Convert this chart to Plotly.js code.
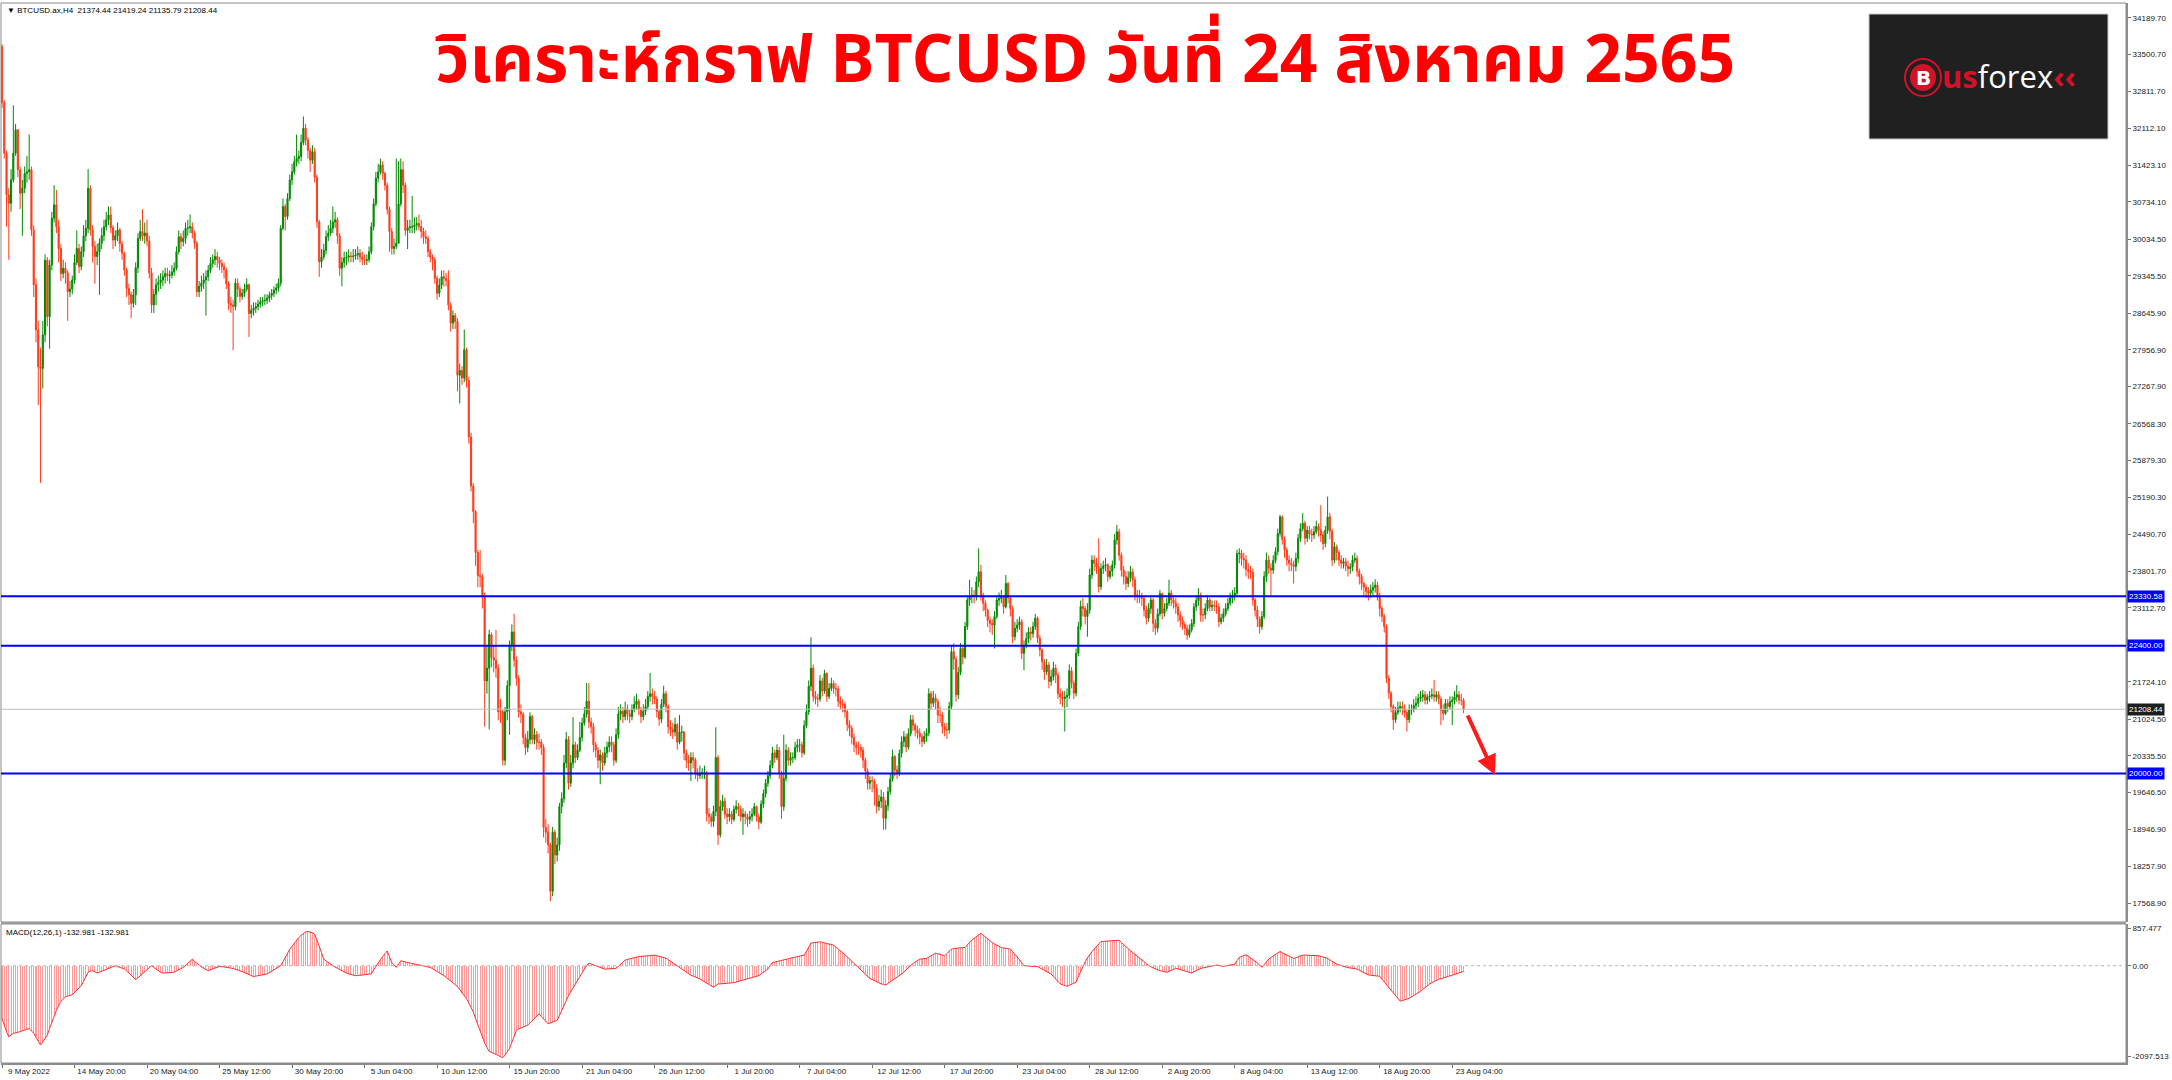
<!DOCTYPE html>
<html><head><meta charset="utf-8">
<script src="https://cdn.plot.ly/plotly-3.0.1.min.js"></script>
<style>html,body{margin:0;padding:0;background:#fff;overflow:hidden}#chart{width:2172px;height:1080px}</style>
</head><body><div id="chart"></div>
<script>
// ---------------- DATA (BTCUSD H4) ----------------
const firstOpen = 33650;
const closes = [
32600,31650,30870,30710,31150,31650,32090,31340,30900,30990,
31270,31300,31340,30210,29180,28330,27640,27610,28240,29640,
28580,29550,30430,30680,30270,29860,29390,29490,29400,29050,
29100,29270,29600,29860,29520,29800,30100,30240,30990,30210,
29900,29710,29800,29960,30100,30270,30400,30490,30250,30020,
30100,30210,29950,29770,29460,29110,29000,28830,28990,29500,
30050,30180,30100,30150,30000,29400,28800,29000,29180,29220,
29270,29330,29390,29350,29360,29420,29490,29800,30080,29990,
30050,30240,30250,30270,30150,29960,29050,29150,29210,29270,
29330,29450,29580,29650,29710,29650,29580,29520,29460,29200,
28830,28800,28770,29210,29100,28960,29020,29100,29180,28640,
28700,28740,28770,28820,28860,28880,28890,28930,28980,29020,
29080,29120,29210,30240,30650,30460,30800,31150,31300,31490,
31550,31590,31850,32120,31900,31700,31520,31680,31200,30360,
29610,29700,29830,30080,30150,30240,30360,30400,30100,29490,
29600,29680,29700,29720,29710,29720,29740,29770,29700,29650,
29640,29650,29800,30270,30700,31180,31300,31430,31270,31050,
30600,30180,29860,29900,29960,30700,31340,31050,30200,30250,
30270,30270,30300,30330,30270,30180,30080,30050,29800,29700,
29650,29300,29020,29175,29330,29300,29260,28800,28460,28600,
28490,27480,27570,27430,27960,27380,26320,25400,24920,24150,
23720,23700,23330,21740,21980,22610,22180,22130,21980,21160,
21160,20250,21160,21650,22420,22660,22130,21790,21160,21120,
20680,20490,20640,21070,20640,20730,20590,20590,20490,18990,
18900,18660,17790,18900,18470,18660,19380,19530,20200,20640,
19820,20200,20540,20300,20440,20680,20950,21120,21360,20970,
20880,20540,20440,20250,20350,20200,20390,20500,20590,20540,
20250,20730,21120,21170,21070,21210,21120,21070,21210,21300,
21360,21210,21070,21170,21260,21450,21500,21450,21400,21165,
21020,21300,21500,21260,20880,20830,20780,20920,20590,20780,
20780,20390,20250,20200,20300,20250,20010,19960,20010,20010,
20010,19240,19190,19100,19290,20300,18850,19380,19480,19240,
19190,19240,19140,19330,19380,19330,19190,19240,19190,19140,
19190,19240,19380,19190,19090,19430,19620,19820,19960,20150,
20390,20300,20440,20000,19380,19910,20440,20250,20300,20300,
20490,20540,20540,20390,20900,21160,21640,21980,21450,21405,
21400,21740,21550,21880,21450,21600,21690,21600,21590,21360,
21310,21300,21165,20920,20850,20680,20540,20490,20490,20440,
20250,20050,19820,19870,19860,19720,19380,19480,19560,19160,
19400,19660,19900,20320,20070,20000,20380,20600,20690,20500,
20750,21010,20910,20820,20760,20690,20600,20700,20760,21500,
21320,21420,21350,21100,21100,20880,20820,20820,21260,22290,
22150,21480,21900,22350,22190,22760,23260,23330,23350,23320,
23600,23790,23350,23200,23070,22880,22820,22790,22950,23260,
23290,23320,23130,23570,23300,23100,22570,22730,22790,22850,
22260,22410,22530,22660,22630,22760,22920,22540,22320,22100,
21910,22040,21730,21820,21980,21850,21500,21440,21410,21440,
21470,21930,21700,21510,22260,22760,23140,23100,22950,23070,
23730,24010,23950,23880,23510,23850,23900,23920,23700,23800,
23920,24390,24540,24100,23820,23700,23570,23680,23790,23640,
23350,23350,23330,23290,23070,22920,23100,23260,22820,22730,
23000,23380,23010,23100,23200,23390,23260,23200,23130,22980,
22880,22800,22730,22600,22700,22820,23130,23250,23350,22980,
22980,23100,23260,23130,23160,23150,23130,22850,22920,23000,
23100,23200,23300,23350,23390,24130,24140,24040,24010,23830,
23800,23780,23260,23070,22900,22760,22950,23700,24010,23860,
23820,24000,24170,24510,24820,24400,24200,24010,23950,23920,
23890,24040,24420,24600,24700,24420,24570,24500,24480,24540,
24640,24580,24480,24320,24570,24820,24550,24010,24260,24150,
24010,23950,23980,23900,23850,23880,24010,24040,23800,23700,
23570,23500,23420,23390,23450,23500,23540,23350,23100,22950,
22760,21790,21510,21260,21010,21150,21230,21260,21230,21150,
21010,21190,21200,21280,21320,21410,21440,21480,21380,21440,
21460,21480,21440,21480,21400,21190,21130,21320,21260,21350,
21380,21440,21480,21380,21374.44,21208.44];
const highs = [
33700,32650,31700,31000,31350,32550,32200,32100,31400,31150,
31400,31600,32000,31400,30300,29300,28500,28000,28500,29750,
29700,29650,30550,31050,30960,30400,29950,29650,29600,29450,
29250,29350,29750,30200,29950,29900,30300,30400,31350,31050,
30300,30000,29950,30050,30250,30400,30550,30650,30650,30300,
30200,30350,30250,30000,29800,29500,29200,29050,29100,29600,
30150,30400,30600,30350,30400,30100,29500,29100,29300,29350,
29400,29450,29500,29500,29450,29550,29600,29900,30200,30150,
30200,30350,30400,30500,30350,30200,30000,29250,29350,29400,
29450,29550,29700,29750,29850,29800,29700,29650,29600,29500,
29250,28950,28900,29300,29300,29150,29100,29200,29300,29200,
28800,28850,28850,28900,28950,28950,29000,29000,29050,29100,
29150,29200,29300,30300,30800,30700,30900,31250,31450,31600,
32000,31700,32000,32340,32200,31950,31750,31800,31750,31250,
30400,29850,29950,30200,30300,30400,30650,30550,30450,30150,
29700,29800,29800,29850,29800,29850,29850,29900,29850,29800,
29750,29750,29900,30350,30800,31300,31450,31550,31500,31300,
31100,30650,30250,30050,31550,31500,31550,31500,31100,30400,
30400,30850,30450,30450,30500,30400,30250,30200,30100,29850,
29750,29700,29350,29300,29450,29450,29400,29450,28850,28700,
28650,28550,27700,27650,28340,28000,27450,26400,25450,24950,
24200,24200,23750,23400,22400,22700,22650,22400,22700,22050,
21400,21200,21250,21750,22500,22800,23000,22200,21850,21300,
21150,20750,20800,21150,21100,20850,20800,20750,20650,20550,
19150,19050,18700,19000,18950,18800,19450,19650,20350,20780,
20700,20350,21060,20600,20550,20970,21050,21250,21700,21700,
21050,20950,20600,20500,20450,20400,20500,20600,20700,20700,
20600,20850,21250,21300,21250,21350,21300,21200,21300,21450,
21500,21400,21250,21300,21400,21550,21890,21600,21550,21450,
21200,21400,21650,21550,21300,21000,20950,21050,20950,21100,
20900,20800,20450,20350,20400,20400,20300,20100,20150,20100,
20150,20050,19350,19250,19400,20870,20350,19500,19600,19550,
19350,19350,19300,19400,19500,19450,19400,19350,19300,19250,
19300,19350,19450,19400,19250,19500,19700,19900,20050,20250,
20500,20450,20550,20500,20050,20730,20550,20500,20400,20400,
20600,20650,20650,20600,21000,21300,21750,22560,22050,21550,
21500,21850,21800,21950,21900,21700,21800,21750,21700,21650,
21450,21400,21350,21200,21000,20900,20750,20600,20600,20550,
20500,20300,20100,19950,19950,19900,19800,19600,19700,19650,
19500,19750,20000,20450,20350,20150,20450,20700,20800,20750,
20850,21100,21100,20950,20900,20850,20750,20800,20850,21600,
21550,21550,21500,21400,21250,21150,20950,20950,21350,22400,
22450,22200,22000,22450,22400,22850,23350,23640,23500,23450,
23700,24230,23920,23400,23250,23100,22950,22900,23050,23350,
23400,23450,23350,23730,23600,23350,23150,22850,22900,22950,
22900,22500,22650,22750,22750,22850,23000,22950,22600,22350,
22150,22150,22100,21950,22100,22050,21900,21600,21550,21550,
21600,22050,22000,21750,22350,22850,23250,23300,23150,23200,
23850,24100,24100,24050,24420,23950,24000,24050,23950,23900,
24000,24500,24670,24600,24150,23900,23800,23800,23900,23850,
23700,23450,23450,23400,23350,23150,23200,23350,23300,22900,
23100,23450,23400,23200,23300,23640,23450,23350,23300,23200,
23050,22950,22850,22800,22800,22900,23200,23350,23480,23400,
23100,23200,23350,23300,23250,23250,23250,23200,23000,23100,
23200,23300,23400,23450,23500,24200,24230,24200,24150,24100,
23950,23900,23850,23300,23150,22950,23050,23800,24150,24100,
23950,24100,24250,24600,24860,24850,24450,24250,24100,24050,
24000,24150,24500,24700,24890,24750,24650,24650,24600,24650,
24750,24700,25040,24550,24650,25200,24900,24600,24350,24300,
24200,24100,24050,24050,24000,23950,24100,24150,24100,23850,
23750,23600,23550,23500,23550,23600,23650,23600,23400,23150,
23000,22800,21850,21550,21300,21250,21350,21350,21350,21300,
21200,21300,21300,21400,21450,21500,21550,21570,21550,21500,
21550,21600,21760,21550,21550,21450,21300,21400,21400,21450,
21450,21550,21660,21550,21500,21419.24];
const lows = [
32500,31550,30270,29650,30550,31100,31600,31200,30600,30100,
30900,31100,31150,30100,28950,28100,26920,25460,27230,28100,
28400,27980,29450,30350,30150,29600,29250,29300,29200,28500,
28950,29000,29200,29550,29400,29450,29700,30000,30150,30100,
29600,29200,29550,28990,29850,30000,30200,30300,30150,29850,
29900,30000,29800,29650,29350,28950,28800,28550,28750,28800,
29400,30000,30000,29950,29900,29300,28650,28650,28800,29050,
29100,29150,29200,29250,29200,29300,29350,29450,29750,29850,
29900,29950,30100,30150,30050,29850,28950,28950,29050,29100,
28600,29250,29400,29500,29550,29500,29450,29400,29300,29100,
28700,28650,27950,28700,28950,28850,28900,28950,29050,28200,
28550,28600,28650,28700,28750,28780,28800,28820,28850,28900,
28950,29000,29050,29150,30200,30200,30400,30750,31050,31250,
31400,31450,31500,31800,31800,31550,31300,31450,31100,30250,
29330,29500,29650,29750,30000,30100,30150,30250,29950,29350,
29150,29500,29550,29600,29600,29600,29650,29650,29600,29550,
29550,29550,29600,29750,30200,30650,31100,31250,31150,30950,
30500,29800,29750,29750,29850,29950,30650,30900,30100,29850,
30150,30150,30150,30200,30200,30050,29950,29950,29700,29600,
29450,29200,28900,28950,29100,29150,29150,28700,28300,28350,
28350,27180,26950,27300,27350,27250,26200,25300,24700,23900,
23500,23500,23100,20880,21500,20830,22000,21900,21800,21000,
20950,20150,20150,21000,20730,22300,22000,21650,21050,20950,
20550,20350,20400,20550,20550,20550,20450,20450,20350,18800,
18700,18500,17600,17700,18300,18350,18550,19250,19450,20100,
19700,19750,20100,20200,20250,20400,20600,20900,21050,20850,
20750,20400,20300,20100,19800,20050,20150,20300,20400,20400,
20150,20200,20650,21000,20950,21000,21000,20950,21000,21150,
21200,21100,20950,21000,21100,21200,21350,21300,21300,21050,
20900,20950,21250,21150,20750,20700,20650,20700,20450,20550,
20600,20250,20100,20050,19860,20100,19900,19850,19900,19900,
19900,19100,19050,19000,19000,19200,18660,18800,19300,19150,
19050,19100,19050,19100,19250,19200,19100,18850,19050,19000,
19050,19100,19200,19100,18950,19050,19350,19550,19750,19900,
20100,20200,20250,19900,19150,19300,19850,20150,20150,20200,
20250,20400,20400,20300,20350,20850,21100,21550,21350,21300,
21250,21350,21450,21500,21350,21400,21550,21500,21450,21250,
21200,21150,21050,20800,20700,20550,20400,20350,20350,20300,
20100,19900,19700,19700,19650,19400,19250,19300,19350,18940,
18950,19300,19600,19850,19950,19900,19950,20300,20500,20400,
20450,20700,20800,20700,20650,20550,20500,20550,20600,20700,
21200,21250,21200,20950,20950,20750,20700,20650,20750,21200,
21950,21350,21400,21850,22050,22150,22700,23150,23200,23200,
23250,23500,23250,23050,22950,22750,22650,22600,22350,22900,
23150,23200,23000,23100,23200,22950,22450,22500,22650,22700,
22150,21940,22350,22450,22500,22550,22700,22450,22200,21950,
21760,21850,21600,21650,21750,21700,21400,21300,21250,20790,
21250,21400,21600,21400,21450,22200,22700,22950,22800,22570,
23000,23650,23800,23750,23400,23450,23750,23800,23600,23650,
23700,23850,24300,24000,23700,23550,23450,23500,23600,23500,
23250,23200,23200,23150,22950,22800,22850,23000,22660,22600,
22650,22950,22900,22950,23050,23150,23150,23100,23000,22850,
22750,22700,22600,22510,22550,22650,22750,23050,23150,22850,
22850,22900,23050,23050,23050,23050,23000,22750,22800,22850,
22950,23050,23150,23200,23250,23350,23950,23900,23850,23700,
23650,23650,23150,22950,22750,22630,22700,22900,23600,23750,
23350,23750,23950,24100,24450,24300,24050,23900,23800,23800,
23570,23800,23950,24350,24550,24300,24350,24400,24350,24400,
24500,24450,24350,24200,24250,24500,24400,23900,23950,24000,
23900,23850,23850,23800,23700,23750,23800,23950,23700,23550,
23450,23350,23300,23250,23300,23350,23400,23250,22950,22850,
22650,21700,21400,21150,20820,20950,21100,21150,21100,21050,
20790,20950,21100,21150,21200,21250,21350,21350,21300,21300,
21350,21400,21350,21350,21300,20910,21000,21100,21150,21200,
20910,21300,21350,21300,21280,21135.79];
// MACD(12,26,1) histogram
const macd = [
-1220,-1380,-1520,-1640,-1600,-1560,-1550,-1540,-1520,-1500,
-1490,-1470,-1450,-1500,-1560,-1650,-1740,-1830,-1760,-1690,
-1600,-1450,-1300,-1145,-1030,-920,-825,-770,-720,-700,
-685,-670,-620,-570,-510,-460,-360,-250,-150,-120,
-120,-140,-170,-150,-130,-110,-90,-70,-45,-20,
0,-20,-40,-60,-75,-120,-170,-230,-280,-320,
-280,-230,-190,-140,-90,-40,0,-40,-80,-120,
-150,-170,-165,-160,-160,-155,-150,-120,-95,-65,
-40,10,60,110,150,100,50,0,-30,-60,
-90,-115,-95,-75,-55,-35,-15,-20,-25,-35,
-40,-55,-65,-80,-90,-110,-135,-160,-185,-210,
-230,-250,-240,-230,-220,-210,-200,-190,-160,-130,
-100,-65,-30,0,90,190,290,380,450,520,
590,650,700,750,780,790,780,760,725,600,
450,300,150,110,70,35,0,-30,-60,-90,
-120,-150,-170,-190,-205,-220,-230,-225,-220,-215,
-210,-205,-200,-190,-100,-10,75,140,210,280,
340,210,75,20,-40,40,115,100,85,70,
55,45,38,30,22,15,0,-15,-30,-40,
-70,-100,-130,-160,-190,-230,-270,-310,-350,-385,
-420,-480,-550,-620,-690,-760,-860,-960,-1070,-1220,
-1370,-1530,-1680,-1780,-1880,-1980,-2000,-2020,-2040,-2070,
-2100,-2120,-2060,-1990,-1910,-1770,-1630,-1490,-1460,-1440,
-1420,-1395,-1370,-1320,-1270,-1210,-1160,-1110,-1170,-1230,
-1290,-1340,-1320,-1300,-1280,-1260,-1150,-1030,-920,-800,
-690,-600,-510,-420,-320,-230,-150,-80,0,60,
40,20,0,-20,-40,-60,-80,-76,-72,-68,
-64,-60,-15,35,80,130,145,160,170,185,
200,210,215,220,225,230,235,240,245,230,
215,200,190,175,140,105,70,35,0,-40,
-80,-120,-160,-190,-220,-240,-260,-285,-305,-340,
-370,-400,-430,-465,-496,-460,-420,-420,-415,-415,
-410,-410,-405,-390,-375,-360,-345,-330,-320,-305,
-290,-275,-260,-245,-229,-190,-150,-115,-76,0,
76,85,95,105,115,130,145,160,175,185,
195,205,215,230,244,330,430,520,530,540,
545,550,540,530,515,500,487,473,430,390,
345,305,255,205,155,100,50,0,-55,-110,
-160,-215,-267,-295,-320,-350,-380,-405,-420,-430,
-443,-410,-375,-340,-300,-267,-230,-190,-153,-95,
-40,15,50,85,120,153,158,163,168,200,
230,260,290,275,260,245,229,280,330,382,
395,405,415,420,420,420,480,540,595,630,
670,710,748,705,660,620,575,534,505,475,
450,420,410,400,390,382,325,270,214,140,
70,0,-4,-8,-12,-15,-19,-23,-50,-80,
-110,-135,-165,-191,-250,-310,-365,-420,-440,-460,
-473,-450,-425,-405,-382,-250,-125,0,90,180,
267,325,385,440,500,557,560,565,568,572,
576,580,584,588,535,485,430,382,345,305,
265,229,185,140,95,45,0,-25,-50,-75,
-99,-115,-125,-140,-153,-130,-105,-85,-61,-75,
-90,-105,-120,-135,-150,-168,-140,-110,-76,-65,
-50,-40,-25,-15,-5,5,15,5,-5,-15,
-5,5,15,25,38,115,191,215,235,252,
220,185,150,115,65,15,-38,25,90,153,
190,225,260,295,328,300,270,245,214,190,
168,185,205,225,244,244,244,244,244,244,
244,230,215,200,185,168,135,100,70,38,
20,0,-20,-38,-45,-53,-60,-68,-76,-105,
-130,-160,-190,-214,-220,-226,-232,-238,-244,-310,
-375,-440,-505,-572,-630,-695,-755,-816,-805,-790,
-778,-750,-720,-690,-660,-633,-590,-545,-500,-458,
-425,-390,-360,-328,-315,-300,-285,-267,-250,-235,
-220,-205,-191,-170,-150,-133];

const timeLabels = ['9 May 2022','14 May 20:00','20 May 04:00','25 May 12:00','30 May 20:00','5 Jun 04:00','10 Jun 12:00','15 Jun 20:00','21 Jun 04:00','26 Jun 12:00','1 Jul 20:00','7 Jul 04:00','12 Jul 12:00','17 Jul 20:00','23 Jul 04:00','28 Jul 12:00','2 Aug 20:00','8 Aug 04:00','13 Aug 12:00','18 Aug 20:00','23 Aug 04:00'];
const timeLabelBars = [0,32,64,96,128,160,192,224,256,288,320,352,384,416,448,480,512,544,576,608,640];
const priceTicks = ['34189.70','33500.70','32811.70','32112.10','31423.10','30734.10','30034.50','29345.50','28645.90','27956.90','27267.90','26568.30','25879.30','25190.30','24490.70','23801.70','23112.70','21724.10','21024.50','20335.50','19646.50','18946.90','18257.90','17568.90'];
const macdTicks = ['857.477','0.00','-2097.513'];
const levelLines = [23330.58, 22400.00, 20000.00];
const levelLabels = ['23330.58','22400.00','20000.00'];
const bidPrice = 21208.44;
const arrowBars = [646.5, 658.9];
const arrowPrices = [21119, 19973];
const headerText = '\u25BC BTCUSD.ax,H4  21374.44 21419.24 21135.79 21208.44';
const macdText = 'MACD(12,26,1) -132.981 -132.981';
const titleText = 'วิเคราะห์กราฟ BTCUSD วันที่ 24 สิงหาคม 2565';

// ---------------- BUILD ----------------
if (closes.length !== highs.length || closes.length !== lows.length || closes.length !== macd.length) {
  throw new Error('length mismatch c=' + closes.length + ' h=' + highs.length + ' l=' + lows.length + ' m=' + macd.length);
}
const bars = closes.map((_, i) => i);
const opens = closes.map((c, i) => i === 0 ? firstOpen : closes[i - 1]);
const hi = highs.map((h, i) => Math.max(h, opens[i], closes[i]));
const lo = lows.map((l, i) => Math.min(l, opens[i], closes[i]));

const W = 2172, H = 1080;
const mL = 1, mR = 46, mT = 3, mB = 17;
const plotW = W - mL - mR, plotH = H - mT - mB;
const pyP = px => (H - mB - px) / plotH;     // pixel y -> paper y
const pxP = px => (px - mL) / plotW;         // pixel x -> paper x
const barPx = 2.266, bar0 = 2;
const xr = [(mL - bar0) / barPx, (W - mR - bar0) / barPx];
const mainDom = [pyP(922), 1];
const macdDom = [0, pyP(924)];

const font = 'Liberation Sans, Arial, sans-serif';
const traces = [
  {type: 'candlestick', x: bars, open: opens, high: hi, low: lo, close: closes,
   xaxis: 'x', yaxis: 'y', whiskerwidth: 0, hoverinfo: 'skip',
   increasing: {line: {color: '#008a00', width: 1}, fillcolor: '#008a00'},
   decreasing: {line: {color: '#ff3b1a', width: 1}, fillcolor: '#ff3b1a'}},
  {type: 'bar', x: bars, y: macd, xaxis: 'x', yaxis: 'y2', width: 0.45,
   marker: {color: '#ff9a9a', line: {width: 0}}, hoverinfo: 'skip'},
  {type: 'scatter', mode: 'lines', x: bars, y: macd, xaxis: 'x', yaxis: 'y2',
   line: {color: '#ff2d2d', width: 1}, hoverinfo: 'skip'}
];

const shapes = [
  {type: 'rect', xref: 'paper', yref: 'paper', x0: 0, x1: 1, y0: mainDom[0], y1: 1, line: {color: '#8a8a8a', width: 1}},
  {type: 'rect', xref: 'paper', yref: 'paper', x0: 0, x1: 1, y0: 0, y1: macdDom[1], line: {color: '#8a8a8a', width: 1}},
  {type: 'rect', xref: 'paper', yref: 'paper', x0: 0, x1: 1, y0: macdDom[1], y1: mainDom[0], fillcolor: '#9a9a9a', line: {width: 0}},
  {type: 'line', xref: 'paper', yref: 'y', x0: 0, x1: 1, y0: bidPrice, y1: bidPrice, line: {color: '#c0c0c0', width: 1}},
  {type: 'line', xref: 'paper', yref: 'y2', x0: 0, x1: 1, y0: 0, y1: 0, line: {color: '#b8b8b8', width: 1, dash: 'dot'}},
  // logo box
  {type: 'rect', xref: 'paper', yref: 'paper', x0: pxP(1869), x1: pxP(2108), y0: pyP(139), y1: pyP(14), fillcolor: '#202020', line: {color: '#c8c8c8', width: 1}},
  {type: 'circle', xref: 'paper', yref: 'paper', x0: pxP(1905), x1: pxP(1941), y0: pyP(96), y1: pyP(59), fillcolor: 'rgba(0,0,0,0)', line: {color: '#d3122a', width: 2}},
  {type: 'circle', xref: 'paper', yref: 'paper', x0: pxP(1910), x1: pxP(1936), y0: pyP(91), y1: pyP(64), fillcolor: '#d3122a', line: {width: 0}}
];
levelLines.forEach(v => shapes.push({type: 'line', xref: 'paper', yref: 'y', x0: 0, x1: 1, y0: v, y1: v, line: {color: '#0000ff', width: 2}}));

const annotations = [
  {xref: 'paper', yref: 'paper', x: 0, y: 1, xanchor: 'left', yanchor: 'top', xshift: 4, yshift: -1, showarrow: false,
   text: headerText, font: {family: font, size: 8, color: '#000'}},
  {xref: 'paper', yref: 'paper', x: 0, y: macdDom[1], xanchor: 'left', yanchor: 'top', xshift: 3, yshift: -2, showarrow: false,
   text: macdText, font: {family: font, size: 8, color: '#000'}},
  {xref: 'paper', yref: 'paper', x: pxP(1085), y: pyP(62), xanchor: 'center', yanchor: 'middle', showarrow: false,
   text: '<b>' + titleText + '</b>', font: {family: 'Noto Sans Thai, Noto Sans, DejaVu Sans, sans-serif', size: 66, color: '#ff0000'}},
  {xref: 'paper', yref: 'paper', x: pxP(1923), y: pyP(78), xanchor: 'center', yanchor: 'middle', showarrow: false,
   text: '<b>B</b>', font: {family: 'DejaVu Sans, sans-serif', size: 20, color: '#ffffff'}},
  {xref: 'paper', yref: 'paper', x: pxP(1940), y: pyP(76), xanchor: 'left', yanchor: 'middle', showarrow: false,
   text: '<span style="color:#d3122a"><b>us</b></span><span style="color:#ffffff">forex</span><span style="color:#d3122a"><b>\u2039\u2039</b></span>',
   font: {family: 'Open Sans, Noto Sans, sans-serif', size: 31, color: '#ffffff'}},
  {x: arrowBars[1], y: arrowPrices[1], ax: arrowBars[0], ay: arrowPrices[0], xref: 'x', yref: 'y', axref: 'x', ayref: 'y',
   showarrow: true, text: '', arrowcolor: '#ff1a1a', arrowwidth: 4, arrowhead: 2, arrowsize: 1}
];
levelLines.forEach((v, k) => annotations.push({xref: 'paper', yref: 'y', x: 1, y: v, xanchor: 'left', yanchor: 'middle', xshift: 1,
  showarrow: false, text: levelLabels[k], bgcolor: '#0000ff', borderpad: 1, font: {family: font, size: 8, color: '#ffffff'}}));
annotations.push({xref: 'paper', yref: 'y', x: 1, y: bidPrice, xanchor: 'left', yanchor: 'middle', xshift: 1,
  showarrow: false, text: bidPrice.toFixed(2), bgcolor: '#1e1e1e', borderpad: 1, font: {family: font, size: 8, color: '#ffffff'}});

const axisCommon = {showgrid: false, zeroline: false, showline: true, linecolor: '#8c8c8c', linewidth: 2,
  ticks: 'outside', ticklen: 3, tickcolor: '#707070', tickfont: {family: font, size: 8, color: '#202020'}, fixedrange: true};
const layout = {
  width: W, height: H, margin: {l: mL, r: mR, t: mT, b: mB, pad: 0},
  paper_bgcolor: '#ffffff', plot_bgcolor: '#ffffff', showlegend: false, bargap: 0,
  xaxis: Object.assign({}, axisCommon, {domain: [0, 1], anchor: 'y2', range: xr, rangeslider: {visible: false},
    tickmode: 'array', tickvals: timeLabelBars, ticktext: timeLabels, ticklabelshift: 27, ticklen: 3, ticklabelstandoff: -4}),
  yaxis: Object.assign({}, axisCommon, {domain: mainDom, anchor: 'x', side: 'right', range: [17213, 34471],
    tickmode: 'array', tickvals: priceTicks.map(Number), ticktext: priceTicks}),
  yaxis2: Object.assign({}, axisCommon, {domain: macdDom, anchor: 'x', side: 'right', range: [-2244, 962],
    tickmode: 'array', tickvals: macdTicks.map(Number), ticktext: macdTicks}),
  shapes: shapes, annotations: annotations
};
Plotly.newPlot('chart', traces, layout, {displayModeBar: false, staticPlot: true});
</script></body></html>
